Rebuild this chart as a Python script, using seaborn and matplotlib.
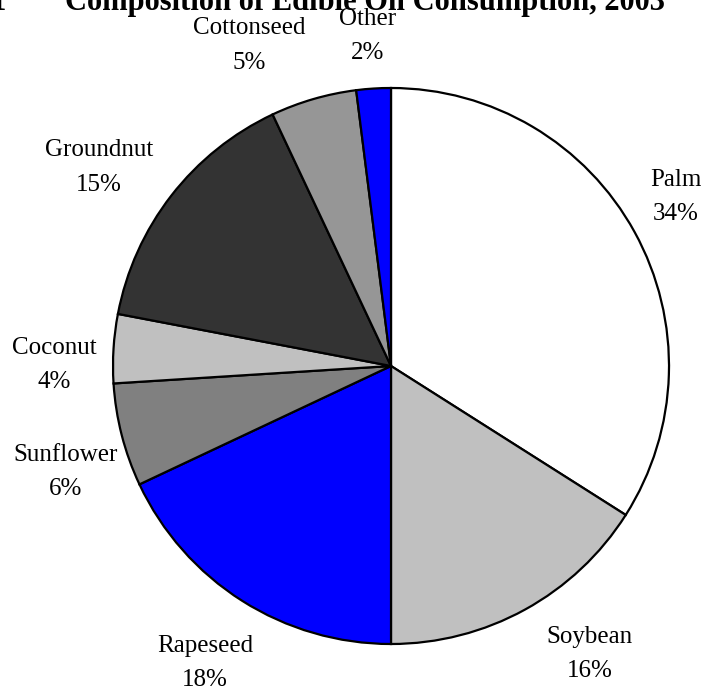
"""Pie chart: composition of edible oil consumption, 2003."""

import numpy as np
import matplotlib
matplotlib.use("Agg")
import matplotlib.pyplot as plt
import seaborn as sns

oils = ["Palm", "Soybean", "Rapeseed", "Sunflower", "Coconut",
        "Groundnut", "Cottonseed", "Other"]
shares = [34, 16, 18, 6, 4, 15, 5, 2]
colors = ["#FFFFFF", "#C0C0C0", "#0000FF", "#808080", "#C0C0C0",
          "#333333", "#969696", "#0000FF"]

# label placement: distance from centre (in radii) and nudge from mid-angle (deg)
label_dist = [1.19, 1.26, 1.26, 1.23, 1.21, 1.27, 1.26, 1.19]
label_nudge = [1.9, 5.8, 0.3, 3.6, 3.4, 3.6, 7.6, 0.5]

sns.set_theme(style="white")
plt.rcParams["font.family"] = ["Liberation Serif", "DejaVu Serif"]
plt.rcParams["text.color"] = "black"

fig = plt.figure(figsize=(7.05, 6.91), dpi=100)
ax = fig.add_axes([0, 0, 1, 1])

wedges, _ = ax.pie(shares, colors=colors, startangle=90, counterclock=False,
                   wedgeprops=dict(edgecolor="black", linewidth=1.6))

for w, name, pct, d, nudge in zip(wedges, oils, shares, label_dist, label_nudge):
    mid = np.deg2rad((w.theta1 + w.theta2) / 2 + nudge)
    ax.text(d * np.cos(mid), d * np.sin(mid), f"{name}\n{pct}%",
            ha="center", va="center", fontsize=18, linespacing=1.72,
            color="black")

# keep pie centre at (391, 366) px with radius 278 px
r = 278.0
ax.set_xlim(-391 / r, (705 - 391) / r)
ax.set_ylim(-(691 - 366) / r, 366 / r)
ax.set_aspect("auto")
ax.axis("off")

# title sits partly above the top edge, as in the source image
fig.text(365 / 705, 1 - 10 / 691, "Composition of Edible Oil Consumption, 2003",
         ha="center", va="baseline", fontsize=22, fontweight="bold",
         color="black")
fig.text(6 / 705, 1 - 10 / 691, "1", ha="right", va="baseline",
         fontsize=22, fontweight="bold", color="black")

fig.savefig("out.png", dpi=100)
